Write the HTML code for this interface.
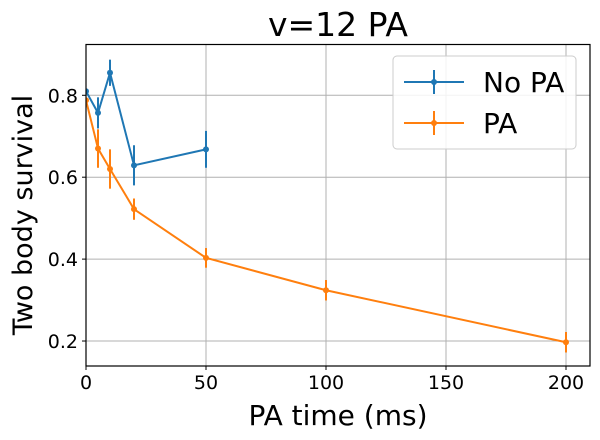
<!DOCTYPE html>
<html><head><meta charset="utf-8"><style>
html,body{margin:0;padding:0;background:#fff;}
svg{display:block;font-family:"DejaVu Sans","Liberation Sans",sans-serif;}
</style></head><body>
<svg id="chart" width="600" height="440">
<rect width="600" height="440" fill="#fff"/>
<text x="338" y="36" font-size="33" text-anchor="middle">v=12 PA</text>
<g id="grid"></g>
<g id="series"></g>
<rect x="86" y="44.5" width="504" height="321.5" fill="none" stroke="#000" stroke-width="1.2"/>
<g id="ticks"></g>
<text x="338" y="425" font-size="28" text-anchor="middle">PA time (ms)</text>
<text transform="translate(32,215) rotate(-90)" font-size="27" text-anchor="middle">Two body survival</text>
<g>
<rect x="393" y="56" width="183" height="93" rx="4" fill="#fff" fill-opacity="0.85" stroke="#ccc"/>
<g>
<line x1="404" y1="82" x2="464" y2="82" stroke="#1f77b4" stroke-width="2"/>
<line x1="434" y1="70" x2="434" y2="94" stroke="#1f77b4" stroke-width="2"/>
<circle cx="434" cy="82" r="3" fill="#1f77b4"/>
<text x="483" y="92" font-size="28">No PA</text>
</g>
<g>
<line x1="404" y1="123" x2="464" y2="123" stroke="#ff7f0e" stroke-width="2"/>
<line x1="434" y1="111" x2="434" y2="135" stroke="#ff7f0e" stroke-width="2"/>
<circle cx="434" cy="123" r="3" fill="#ff7f0e"/>
<text x="483" y="133" font-size="28">PA</text>
</g>
</g>
</svg>
<script>
const xNoPA = [0, 5, 10, 20, 50];
const yNoPA = [0.81, 0.757, 0.855, 0.629, 0.668];
const eNoPA = [0.0, 0.038, 0.032, 0.049, 0.045];
const xPA = [0, 5, 10, 20, 50, 100, 200];
const yPA = [0.788, 0.67, 0.62, 0.522, 0.403, 0.324, 0.197];
const ePA = [0.0, 0.047, 0.048, 0.026, 0.024, 0.025, 0.025];
const xTicks = [0, 50, 100, 150, 200];
const yTicks = [0.2, 0.4, 0.6, 0.8];
const xTickLabels = ["0", "50", "100", "150", "200"];
const yTickLabels = ["0.2", "0.4", "0.6", "0.8"];

const NS = "http://www.w3.org/2000/svg";
const L = 86, R = 590, T = 44.5, B = 366;
const xMin = 0, xMax = 210, yMin = 0.139, yMax = 0.924;
const sx = v => L + (v - xMin) / (xMax - xMin) * (R - L);
const sy = v => B - (v - yMin) / (yMax - yMin) * (B - T);
function mk(tag, attrs, parent) {
  const e = document.createElementNS(NS, tag);
  for (const k in attrs) e.setAttribute(k, attrs[k]);
  parent.appendChild(e);
  return e;
}
const grid = document.getElementById('grid');
const ticks = document.getElementById('ticks');
xTicks.forEach((t, i) => {
  const x = sx(t);
  const g = mk('line', {x1: x, x2: x, y1: T, y2: B, stroke: '#b0b0b0', 'stroke-width': 1}, grid);
  
  
  mk('line', {x1: x, x2: x, y1: B, y2: B + 4, stroke: '#000'}, ticks);
  const tx = mk('text', {x: x, y: B + 23, 'font-size': 19, 'text-anchor': 'middle'}, ticks);
  tx.textContent = xTickLabels[i];
  
  
});
yTicks.forEach((t, i) => {
  const y = sy(t);
  const g = mk('line', {x1: L, x2: R, y1: y, y2: y, stroke: '#b0b0b0', 'stroke-width': 1}, grid);
  
  
  mk('line', {x1: L - 4, x2: L, y1: y, y2: y, stroke: '#000'}, ticks);
  const tx = mk('text', {x: L - 8, y: y + 7, 'font-size': 19, 'text-anchor': 'end'}, ticks);
  tx.textContent = yTickLabels[i];
  
  
});
const series = document.getElementById('series');
const clip = mk('clipPath', {id: 'pc'}, series);
mk('rect', {x: L, y: T, width: R - L, height: B - T}, clip);
function draw(xs, ys, es, color, name) {
  const g = mk('g', {'clip-path': 'url(#pc)'}, series);
  
  
  const pts = xs.map((x, i) => sx(x) + ',' + sy(ys[i])).join(' ');
  const pl = mk('polyline', {points: pts, fill: 'none', stroke: color, 'stroke-width': 2}, g);
  
  
  xs.forEach((x, i) => {
    const eb = mk('line', {x1: sx(x), x2: sx(x), y1: sy(ys[i] - es[i]), y2: sy(ys[i] + es[i]), stroke: color, 'stroke-width': 2}, g);
    
    
    const c = mk('circle', {cx: sx(x), cy: sy(ys[i]), r: 3, fill: color}, g);
    
    
  });
}
draw(xNoPA, yNoPA, eNoPA, '#1f77b4', 'no-pa-series');
draw(xPA, yPA, ePA, '#ff7f0e', 'pa-series');
</script>
</body></html>
